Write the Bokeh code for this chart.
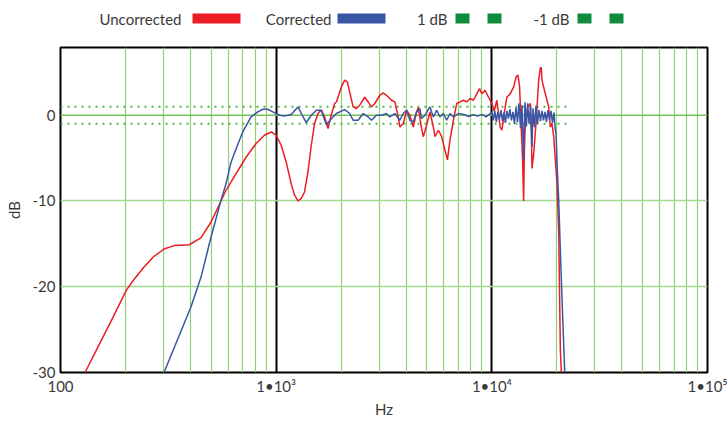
from bokeh.plotting import figure
from bokeh.models import Range1d, FixedTicker, Span
from bokeh.layouts import column
from bokeh.core.properties import value
from bokeh.embed import file_html
from bokeh.resources import INLINE

# ---------------- data ----------------
uncorrected_hz = [130, 150, 171, 202, 220, 244, 270, 302, 337, 395, 448, 499, 555, 585, 652, 725,
                  807, 882, 948,
                  1000, 1055, 1113, 1174, 1217, 1262, 1307, 1354, 1404, 1455, 1507, 1563, 1619,
                  1677, 1740, 1803, 1867, 1902, 2006, 2078, 2139, 2193, 2274, 2356, 2440, 2574,
                  2670, 2767, 2866, 3023, 3135, 3248, 3426, 3549, 3681, 3745, 3884, 4024, 4169,
                  4323, 4479, 4560, 4720, 4812, 4985, 5164, 5356, 5449, 5651, 5854, 6065, 6223,
                  6397, 6635, 6874, 7122, 7386, 7650, 7926, 8220, 8515, 8766, 8984, 9307, 9653,
                  10000, 10250, 10550, 10930, 11130, 11410, 11740, 12170, 12620, 12970, 13210,
                  13450, 13640, 13890, 14040, 14160, 14280, 14660, 15070, 15230, 15350, 15630,
                  16070, 16490, 16770, 16950, 17080, 17700, 18350, 18670, 19010, 19360, 19700,
                  20060, 20430, 20780, 21010]
uncorrected_db = [-30, -26.9, -24.1, -20.4, -19.1, -17.7, -16.5, -15.6, -15.2, -15.1, -14.3,
                  -12.45, -10.0, -8.75, -6.8, -4.9, -3.3, -2.33, -1.95,
                  -2.33, -3.5, -5.45, -8.0, -9.3, -10.0, -9.7, -8.95,
                  -6.6, -3.5, -0.97, 0.2, 0.6, -0.2, -1.55, 0.1, 1.37, 1.55, 3.3, 4.1, 3.9, 2.7,
                  0.97, 0.78, 1.17, 2.1, 1.55, 0.97, 1.37, 2.33, 2.6, 2.33, 1.75, 1.55, -0.2,
                  -1.37, -0.97, 0.58, 0.0, -1.37, 0.39, 0.9, -1.5, -2.5, -1.17, 0.39, -1.37, -2.5,
                  -1.75, -2.5, -4.1, -5.2, -2.9, -0.58, 1.37, 1.55, 1.75, 1.55, 1.95, 1.75, 2.5,
                  3.1, 2.5, 2.9, 2.1, 1.37, 0.5, 1.75, -1.37, -1.75, 0.2, 2.1, 2.5, 3.3, 4.5, 4.7,
                  3.3, -0.58, -5.25, -10.0, -4.0, -1.37, 0.97, 1.37, -1.0, -6.2, -4.5, -0.58, 4.1,
                  5.45, 5.6, 4.1, 2.5, 0.97, -1.37, -0.97, -2.5, -5.25, -8.0, -13.8, -27.4, -30]

corrected_hz = [302, 402, 448, 499, 555, 585, 618, 652, 700, 765, 822, 867, 915, 965, 1036, 1093,
                1174, 1262, 1321, 1379, 1455, 1535, 1619, 1708, 1803, 1902, 2078, 2193, 2274,
                2399, 2531, 2670, 2767, 2918, 3078, 3248, 3365, 3549, 3745, 3884, 4024, 4169,
                4323, 4479, 4640, 4723, 4896, 5164, 5356, 5549, 5746, 5959, 6176, 6397, 6635,
                7000, 7400, 7800, 8200, 8600, 9000, 9400, 9800,
                10000, 10160, 10320, 10490, 10660, 10830, 11020, 11200, 11370, 11560, 11740,
                11930, 12130, 12330, 12530, 12730, 12940, 13150, 13360, 13580, 13800, 14040,
                14240, 14470, 14660, 14880, 15120, 15350, 15520, 15770, 16020, 16280, 16540,
                16810, 17080, 17360, 17640, 17920, 18210, 18510, 18810, 19110, 19420, 19700,
                19850, 20060, 20430, 20780, 21170, 21780]
corrected_db = [-30, -22.4, -18.9, -14.2, -9.9, -8.0, -5.45, -3.9, -1.95, -0.2, 0.39, 0.7, 0.7,
                0.39, 0.0, -0.08, 0.08, 0.97, 0.0, -0.85, 0.0, 0.58, 0.58, -1.1, -0.4, 0.2, 0.66,
                0.2, -0.58, -0.58, 0.2, -0.2, -0.58, 0.0, 0.0, 0.2, -0.2, 0.2, -0.58, 0.2, 0.58,
                -0.58, -0.78, 0.39, 0.78, -0.39, 0.0, 0.97, -0.2, 0.58, -0.2, 0.2, -0.58, 0.2,
                -0.2, 0.2, 0.1, -0.15, 0.05, -0.1, 0.1, -0.2, 0.15,
                0.3, -0.6, 0.5, -0.8, 0.4, -0.5, 0.6, -0.7, 0.3, -0.9, 0.5, -0.4, 0.7, -0.6, 0.4,
                -1.0, 0.9, -0.8, 1.4, -1.5, 1.2, -5.25, 1.5, -1.3, 1.4, -1.0, 1.0, -3.7, 0.8,
                -1.4, 1.1, -1.0, 0.6, -0.7, 0.5, -0.6, 0.4, -0.8, 0.6, -0.5, 0.5, -0.9, 0.3,
                -1.75, -2.1, -5.6, -10.0, -15.75, -21.6, -30]

limit_hz = [100, 22600]
plus_one_db = [1, 1]
minus_one_db = [-1, -1]

x_ticks = [100, 1000, 10000, 100000]
x_tick_labels = ["100", "1•10³", "1•10⁴", "1•10⁵"]
x_minor = [200, 300, 400, 500, 600, 700, 800, 900,
           2000, 3000, 4000, 5000, 6000, 7000, 8000, 9000,
           20000, 30000, 40000, 50000, 60000, 70000, 80000, 90000]
y_ticks = [-30, -20, -10, 0]
y_tick_labels = ["-30", "-20", "-10", "0"]

legend_labels = ["Uncorrected", "Corrected", "1 dB", "-1 dB"]

RED = "#ec1c24"
BLUE = "#3b55a5"
DOT_GREEN = "#52b448"
LEG_GREEN = "#128a3e"
GRID_GREEN = "#91d174"
TEXT = "#3a3a3a"
FONT = "Lato"

W = 727
BL, BR = 60, 20
HDR_H = 36
MAIN_H = 386
BT, BB = 11, 50

# ---------------- legend header (x in canvas pixels) ----------------
hdr = figure(width=W, height=HDR_H, x_range=Range1d(BL, W - BR), y_range=Range1d(0, HDR_H),
             output_backend="svg", toolbar_location=None,
             min_border_left=BL, min_border_right=BR, min_border_top=0, min_border_bottom=0)
hdr.axis.visible = False
hdr.grid.visible = False
hdr.outline_line_color = None

LEG_Y = HDR_H - 18
hdr.text(x=[181, 331, 447, 569], y=[LEG_Y] * 4, text=legend_labels,
         text_font=value(FONT), text_font_size="15px", text_color=TEXT,
         text_align="right", text_baseline="middle")
hdr.rect(x=[216, 361], y=[LEG_Y, LEG_Y], width=48, height=10,
         width_units="screen", height_units="screen",
         fill_color=[RED, BLUE], line_color=None)
hdr.rect(x=[462, 494, 584, 616], y=[LEG_Y] * 4, width=14, height=10,
         width_units="screen", height_units="screen",
         fill_color=LEG_GREEN, line_color=None)

# ---------------- main plot ----------------
p = figure(width=W, height=MAIN_H, x_axis_type="log",
           x_range=Range1d(100, 100000), y_range=Range1d(-30, 7.9),
           output_backend="svg", toolbar_location=None,
           min_border_left=BL, min_border_right=BR, min_border_top=BT, min_border_bottom=BB)

p.outline_line_color = "black"
p.outline_line_width = 2

p.xaxis.ticker = FixedTicker(ticks=x_ticks)
p.xaxis.major_label_overrides = dict(zip(x_ticks, x_tick_labels))
p.yaxis.ticker = FixedTicker(ticks=y_ticks)
p.yaxis.major_label_overrides = dict(zip(y_ticks, y_tick_labels))
p.xaxis.axis_label = "Hz"
p.yaxis.axis_label = "dB"
for ax in (p.xaxis, p.yaxis):
    ax.axis_line_color = None
    ax.major_tick_line_color = None
    ax.minor_tick_line_color = None
    ax.major_tick_out = 0
    ax.minor_tick_out = 0
    ax.major_tick_in = 0
    ax.minor_tick_in = 0
    ax.major_label_text_font = FONT
    ax.major_label_text_font_size = "15px"
    ax.major_label_text_color = TEXT
    ax.axis_label_text_font = FONT
    ax.axis_label_text_font_size = "15px"
    ax.axis_label_text_font_style = "normal"
    ax.axis_label_text_color = TEXT
p.xaxis.major_label_standoff = 4
p.xaxis.axis_label_standoff = 2
p.yaxis.major_label_standoff = 5
p.yaxis.axis_label_standoff = 7

p.xgrid.ticker = FixedTicker(ticks=[1000, 10000], minor_ticks=x_minor)
p.xgrid.grid_line_color = "black"
p.xgrid.grid_line_width = 2
p.xgrid.minor_grid_line_color = GRID_GREEN
p.xgrid.minor_grid_line_width = 1.2

p.ygrid.ticker = FixedTicker(ticks=[-20, -10])
p.ygrid.grid_line_color = "#a2d88e"
p.ygrid.grid_line_width = 1.5

p.add_layout(Span(location=0, dimension="width", line_color="#72c454",
                  line_width=1.5, level="underlay"))

p.line(limit_hz, plus_one_db, line_color=DOT_GREEN, line_width=2, line_dash="2 5")
p.line(limit_hz, minus_one_db, line_color=DOT_GREEN, line_width=2, line_dash="2 5")

p.line(uncorrected_hz, uncorrected_db, line_color=RED, line_width=1.5)
p.line(corrected_hz, corrected_db, line_color=BLUE, line_width=1.5)

layout = column(hdr, p)
open("out.html", "w").write(file_html(layout, INLINE))
